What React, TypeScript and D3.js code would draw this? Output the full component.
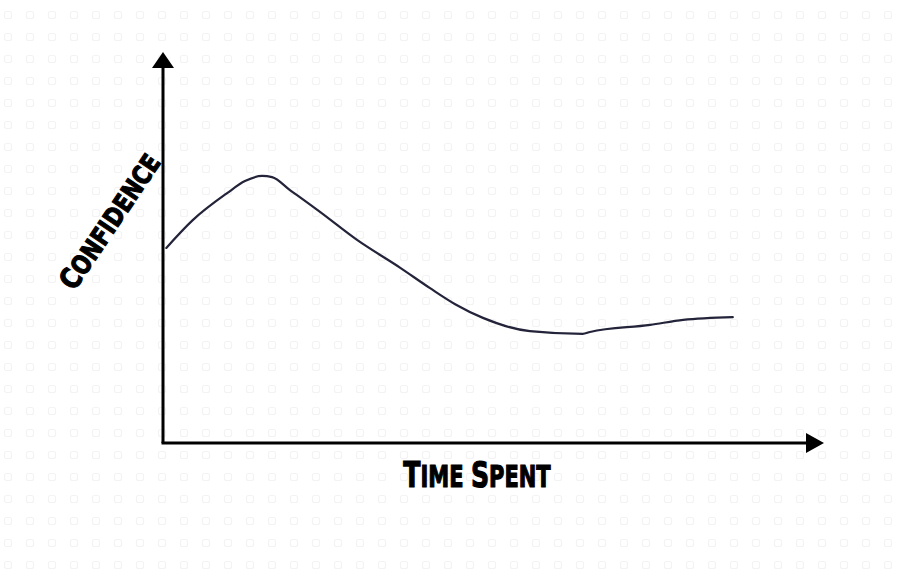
import React from "react";
import * as d3 from "d3";

const WIDTH = 898;
const HEIGHT = 578;

// Time spent (0–100) vs. confidence (0–100)
const timeSpent = [0.5, 4.5, 9.7, 12.4, 15.0, 16.5, 19.2, 23.75, 29.3, 35.9, 40.4, 44.2, 48.4, 55.5, 63.5, 64.6, 73.7, 78.7, 86.2];
const confidence = [49.9, 57.0, 63.9, 67.0, 68.3, 68.0, 64.7, 59.1, 52.0, 44.8, 39.6, 35.5, 32.0, 28.6, 27.9, 28.4, 30.2, 31.5, 32.2];

const xLabel = [
  { text: "T", big: true },
  { text: "IME ", big: false },
  { text: "S", big: true },
  { text: "PENT", big: false },
];
const yLabel = [
  { text: "C", big: true },
  { text: "ONFIDENCE", big: false },
];

const FONT = "'DejaVu Sans', 'Liberation Sans', sans-serif";

export default function App() {
  const x = d3.scaleLinear().domain([0, 100]).range([163, 824]);
  const y = d3.scaleLinear().domain([0, 100]).range([443, 52]);

  const points: [number, number][] = timeSpent.map((t, i) => [t, confidence[i]]);
  const line = d3
    .line<[number, number]>()
    .x((d) => x(d[0]))
    .y((d) => y(d[1]))
    .curve(d3.curveMonotoneX);

  // faint dotted pattern in the backdrop
  const cols = d3.range(8, WIDTH, 22);
  const rows = d3.range(15, HEIGHT, 22);

  const x0 = x(0);
  const y0 = y(0);
  const yTop = y(100);
  const xEnd = x(100);

  return (
    <svg
      width={WIDTH}
      height={HEIGHT}
      style={{ position: "absolute", left: 0, top: 0, background: "#fff" }}
    >
      <rect width={WIDTH} height={HEIGHT} fill="#fff" />
      <g stroke="#f3f3f3" strokeWidth={1.2} fill="none">
        {rows.map((ry) =>
          cols.map((cx) => (
            <rect key={`${cx}-${ry}`} x={cx - 3.5} y={ry - 3.5} width={7} height={7} rx={2} />
          ))
        )}
      </g>

      {/* axes */}
      <line x1={x0} y1={y0} x2={x0} y2={yTop + 12} stroke="#000" strokeWidth={3} />
      <line x1={x0 - 1.5} y1={y0} x2={xEnd - 14} y2={y0} stroke="#000" strokeWidth={3} />
      <path d={`M${x0},${yTop} L${x0 - 11},${yTop + 16} L${x0 + 11},${yTop + 16} Z`} fill="#000" />
      <path d={`M${xEnd},${y0} L${xEnd - 18},${y0 - 10} L${xEnd - 18},${y0 + 10} Z`} fill="#000" />

      {/* curve */}
      <path d={line(points) ?? ""} fill="none" stroke="#23233a" strokeWidth={2.2} strokeLinecap="round" strokeLinejoin="round" />

      {/* axis titles */}
      <text
        transform="translate(477,487) scale(0.7,1)"
        textAnchor="middle"
        fontFamily={FONT}
        fontWeight="bold"
        fill="#000"
        stroke="#000"
        strokeWidth={1.2}
      >
        {xLabel.map((p, i) => (
          <tspan key={i} fontSize={p.big ? 36 : 30}>
            {p.text}
          </tspan>
        ))}
      </text>
      <text
        transform="translate(118,227) rotate(-56) scale(0.82,1)"
        textAnchor="middle"
        fontFamily={FONT}
        fontWeight="bold"
        fill="#000"
        stroke="#000"
        strokeWidth={1.2}
      >
        {yLabel.map((p, i) => (
          <tspan key={i} fontSize={p.big ? 29 : 26}>
            {p.text}
          </tspan>
        ))}
      </text>
    </svg>
  );
}
